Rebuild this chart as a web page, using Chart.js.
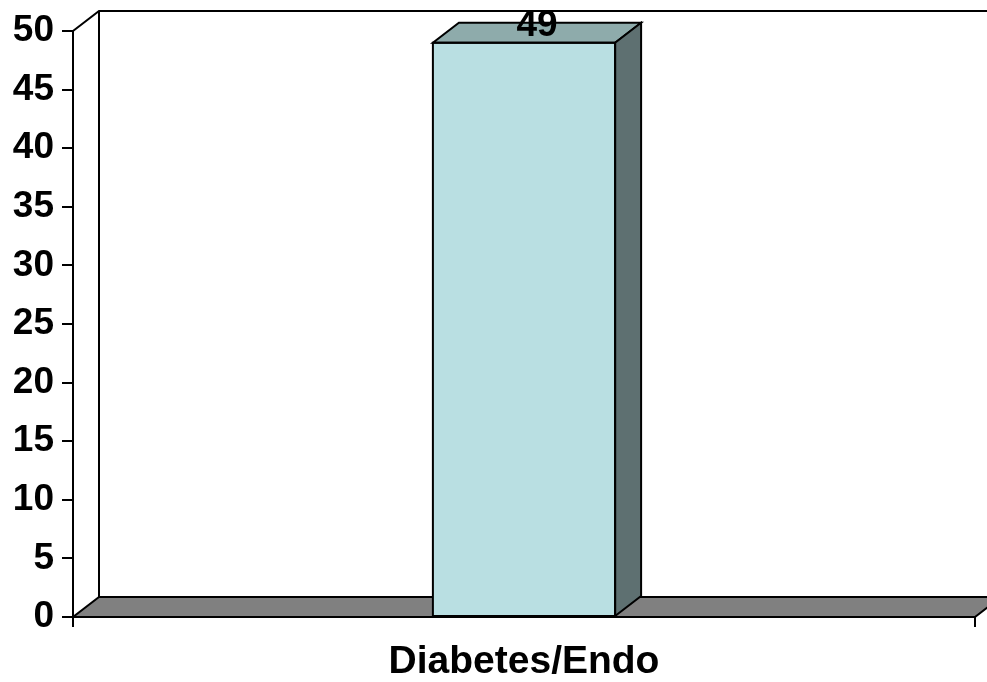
<!DOCTYPE html>
<html>
<head>
<meta charset="utf-8">
<title>Diabetes/Endo</title>
<script src="https://cdn.jsdelivr.net/npm/chart.js@4/dist/chart.umd.min.js"></script>
<style>
  html, body { margin: 0; padding: 0; background: #ffffff; }
  #wrap { width: 987px; height: 682px; }
</style>
</head>
<body>
<div id="wrap"><canvas id="chart" width="987" height="682"></canvas></div>
<script>
// Chart data
const categories = ['Diabetes/Endo'];
const counts = [49];
const axisMin = 0;
const axisMax = 50;
const axisStep = 5;

// Look of the pseudo-3D box
const DEPTH_X = 26;
const DEPTH_Y = -20;
const FRONT_COLOR = '#B9DFE2';
const TOP_COLOR = '#8EABAB';
const SIDE_COLOR = '#5E7071';
const FLOOR_COLOR = '#808080';
const EDGE = '#000000';
const LINE_W = 2;
const FONT_FAMILY = '"Liberation Sans", Arial, Helvetica, sans-serif';

function poly(ctx, pts, fill) {
  ctx.beginPath();
  ctx.moveTo(pts[0][0], pts[0][1]);
  for (let i = 1; i < pts.length; i++) ctx.lineTo(pts[i][0], pts[i][1]);
  ctx.closePath();
  if (fill) { ctx.fillStyle = fill; ctx.fill(); }
  ctx.stroke();
}

// Back wall and floor behind the bars, then top/side faces and value labels in front
const box3d = {
  id: 'box3d',
  beforeDatasetsDraw(chart) {
    const { ctx, chartArea: a } = chart;
    ctx.save();
    ctx.strokeStyle = EDGE;
    ctx.lineWidth = LINE_W;
    // back wall outline
    ctx.beginPath();
    ctx.moveTo(a.left, a.top);
    ctx.lineTo(a.left + DEPTH_X, a.top + DEPTH_Y);
    ctx.lineTo(a.right + DEPTH_X + 20, a.top + DEPTH_Y);
    ctx.moveTo(a.left + DEPTH_X, a.top + DEPTH_Y);
    ctx.lineTo(a.left + DEPTH_X, a.bottom + DEPTH_Y);
    ctx.stroke();
    // floor
    poly(ctx, [
      [a.left, a.bottom],
      [a.right, a.bottom],
      [a.right + DEPTH_X, a.bottom + DEPTH_Y],
      [a.left + DEPTH_X, a.bottom + DEPTH_Y]
    ], FLOOR_COLOR);
    ctx.restore();
  },
  afterDatasetsDraw(chart) {
    const { ctx } = chart;
    const meta = chart.getDatasetMeta(0);
    ctx.save();
    ctx.strokeStyle = EDGE;
    ctx.lineWidth = LINE_W;
    ctx.lineJoin = 'miter';
    meta.data.forEach((bar, i) => {
      const p = bar.getProps(['x', 'y', 'base', 'width'], true);
      const x1 = p.x - p.width / 2;
      const x2 = p.x + p.width / 2;
      const top = p.y;
      const bottom = p.base;
      // top face
      poly(ctx, [
        [x1, top], [x2, top],
        [x2 + DEPTH_X, top + DEPTH_Y], [x1 + DEPTH_X, top + DEPTH_Y]
      ], TOP_COLOR);
      // side face
      poly(ctx, [
        [x2, top], [x2 + DEPTH_X, top + DEPTH_Y],
        [x2 + DEPTH_X, bottom + DEPTH_Y], [x2, bottom]
      ], SIDE_COLOR);
      // front face outline
      ctx.strokeRect(x1, top, x2 - x1, bottom - top);
      // value label
      ctx.fillStyle = '#000000';
      ctx.font = 'bold 37px ' + FONT_FAMILY;
      ctx.textAlign = 'center';
      ctx.textBaseline = 'middle';
      ctx.fillText(String(counts[i]), (x1 + x2 + DEPTH_X) / 2, top + DEPTH_Y + 3);
    });
    ctx.restore();
  }
};

new Chart(document.getElementById('chart'), {
  type: 'bar',
  data: {
    labels: categories,
    datasets: [{
      data: counts,
      backgroundColor: FRONT_COLOR,
      borderColor: EDGE,
      borderWidth: 0,
      categoryPercentage: 1,
      barPercentage: 0.202
    }]
  },
  options: {
    responsive: false,
    animation: false,
    events: [],
    layout: { padding: { top: 31, right: 12, left: 0, bottom: 0 } },
    plugins: {
      legend: { display: false },
      tooltip: { enabled: false },
      title: { display: false }
    },
    scales: {
      x: {
        offset: true,
        grid: {
          offset: true,
          drawOnChartArea: false,
          drawTicks: true,
          tickLength: 10,
          color: EDGE,
          lineWidth: LINE_W
        },
        border: { display: true, color: EDGE, width: LINE_W },
        ticks: {
          color: '#000000',
          padding: 12,
          font: { family: FONT_FAMILY, size: 39, weight: 'bold' }
        },
        afterFit(scale) { scale.height = 65; }
      },
      y: {
        min: axisMin,
        max: axisMax,
        grid: {
          drawOnChartArea: false,
          drawTicks: true,
          tickLength: 11,
          color: EDGE,
          lineWidth: LINE_W
        },
        border: { display: true, color: EDGE, width: LINE_W },
        ticks: {
          stepSize: axisStep,
          color: '#000000',
          padding: 8,
          font: { family: FONT_FAMILY, size: 37, weight: 'bold' }
        },
        afterFit(scale) { scale.width = 73; }
      }
    }
  },
  plugins: [box3d]
});
</script>
</body>
</html>
